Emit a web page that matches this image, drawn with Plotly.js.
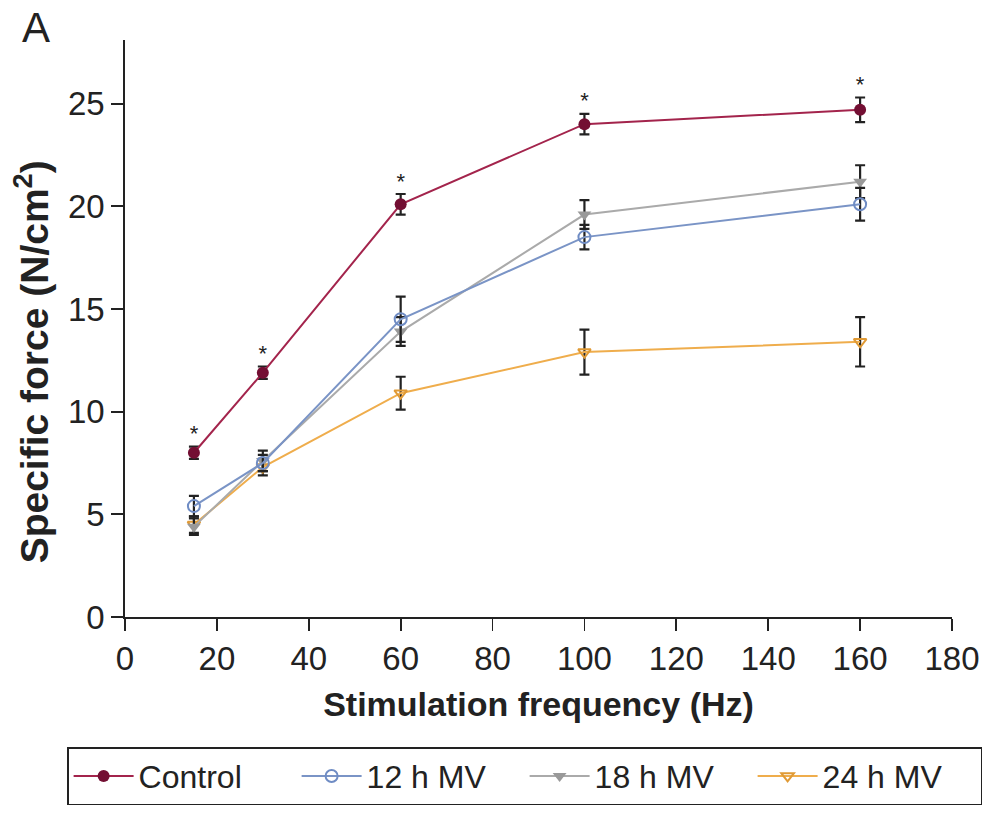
<!DOCTYPE html>
<html>
<head>
<meta charset="utf-8">
<script src="https://cdn.plot.ly/plotly-3.0.1.min.js"></script>
<style>html,body{margin:0;padding:0;background:#fff;}#chart{width:989px;height:816px;}</style>
</head>
<body>
<div id="chart"></div>
<script>
// Data
const freq = [15, 30, 60, 100, 160];
const control = [8.0, 11.9, 20.1, 24.0, 24.7];
const controlErr = [0.3, 0.3, 0.5, 0.5, 0.6];
const mv12 = [5.4, 7.5, 14.5, 18.5, 20.1];
const mv12Err = [0.5, 0.4, 1.1, 0.6, 0.8];
const mv18 = [4.4, 7.6, 13.9, 19.6, 21.2];
const mv18Err = [0.4, 0.5, 0.7, 0.7, 0.8];
const mv24 = [4.5, 7.3, 10.9, 12.9, 13.4];
const mv24Err = [0.4, 0.4, 0.8, 1.1, 1.2];
const starText = ['*', '*', '*', '*', '*'];
const tickVals = [0, 20, 40, 60, 80, 100, 120, 140, 160, 180];
const yTickVals = [0, 5, 10, 15, 20, 25];

const font = 'Liberation Sans, Arial, Helvetica, sans-serif';

function series(name, y, err, lineColor, marker) {
  return {
    x: freq, y: y, name: name, type: 'scatter', mode: 'lines+markers',
    line: {color: lineColor, width: 2},
    marker: marker,
    error_y: {type: 'data', array: err, visible: true, color: '#222', thickness: 2.2, width: 5}
  };
}

const traces = [
  series('24 h MV', mv24, mv24Err, '#efad4c', {symbol: 'triangle-down-open', size: 11, color: '#e09a35', line: {width: 2}}),
  series('18 h MV', mv18, mv18Err, '#aaaaaa', {symbol: 'triangle-down', size: 12, color: '#999999'}),
  series('12 h MV', mv12, mv12Err, '#7a94c6', {symbol: 'circle-open', size: 12, color: '#6f8cc4', line: {width: 2}}),
  series('Control', control, controlErr, '#a3244c', {symbol: 'circle', size: 12, color: '#730f33'}),
  {
    x: freq, y: control.map((v, i) => v + controlErr[i]), text: starText,
    type: 'scatter', mode: 'text', textposition: 'top center',
    textfont: {family: font, size: 22, color: '#222'},
    showlegend: false, hoverinfo: 'skip'
  }
];

const layout = {
  width: 989, height: 816,
  margin: {l: 125, r: 37, t: 40, b: 198},
  paper_bgcolor: '#fff', plot_bgcolor: '#fff',
  font: {family: font, color: '#222', size: 33},
  showlegend: true,
  legend: {
    orientation: 'h', traceorder: 'reversed',
    x: -0.070, xanchor: 'left', y: -0.2235, yanchor: 'top',
    bordercolor: '#222', borderwidth: 1.5,
    font: {family: font, size: 32, color: '#222'},
    itemwidth: 60, entrywidth: 153, entrywidthmode: 'pixels'
  },
  xaxis: {
    range: [0, 180], tickvals: tickVals, ticks: 'outside', ticklen: 12, tickwidth: 1.8,
    tickcolor: '#222', showline: true, linecolor: '#222', linewidth: 1.8,
    showgrid: false, zeroline: false, tickfont: {size: 33, family: font},
    title: {text: 'Stimulation frequency (Hz)', font: {size: 34, family: font, weight: 'bold'}, standoff: 16}
  },
  yaxis: {
    range: [0, 28.1], tickvals: yTickVals, ticks: 'outside', ticklen: 12, tickwidth: 1.8,
    tickcolor: '#222', showline: true, linecolor: '#222', linewidth: 1.8,
    showgrid: false, zeroline: false, tickfont: {size: 33, family: font}
  },
  annotations: [
    {text: 'A', xref: 'paper', yref: 'paper', x: -0.1076, y: 1.0225, xanchor: 'center', yanchor: 'middle',
     showarrow: false, font: {size: 42, family: font, color: '#222'}},
    {text: 'Specific force (N/cm<sup>2</sup>)', xref: 'paper', yref: 'paper', x: -0.1137, y: 0.443,
     xanchor: 'center', yanchor: 'middle', textangle: -90, showarrow: false,
     font: {size: 39, family: font, color: '#222', weight: 'bold'}}
  ]
};

Plotly.newPlot('chart', traces, layout, {displayModeBar: false, staticPlot: true});
</script>
</body>
</html>
